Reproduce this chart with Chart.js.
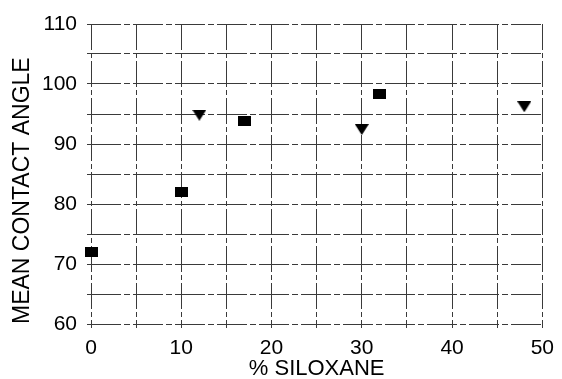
<!DOCTYPE html>
<html>
<head>
<meta charset="utf-8">
<script src="https://cdn.jsdelivr.net/npm/chart.js@4.4.1/dist/chart.umd.min.js"></script>
<style>
  html, body { margin: 0; padding: 0; background: #fff; }
  #wrap { width: 562px; height: 379px; }
</style>
</head>
<body>
<div id="wrap"><canvas id="chart"></canvas></div>
<script>
// % siloxane vs. mean contact angle, two sample sets
const squareX = [0, 10, 17, 32];
const squareY = [72, 82, 93.8, 98.4];
const triangleX = [12, 30, 48];
const triangleY = [94.8, 92.4, 96.2];

const xTicks = [0, 10, 20, 30, 40, 50];
const yTicks = [60, 70, 80, 90, 100, 110];

// marker images: filled square and downward triangle
function makeSquare() {
    const c = document.createElement("canvas");
    c.width = 13;
    c.height = 10;
    const ctx = c.getContext("2d");
    ctx.fillStyle = "#000";
    ctx.fillRect(0, 0, 13, 10);
    return c;
}
function makeTriangle() {
    const c = document.createElement("canvas");
    c.width = 14;
    c.height = 11;
    const ctx = c.getContext("2d");
    ctx.fillStyle = "#000";
    ctx.beginPath();
    ctx.moveTo(0, 0);
    ctx.lineTo(14, 0);
    ctx.lineTo(7, 11);
    ctx.closePath();
    ctx.fill();
    return c;
}

const toPoints = (xs, ys) => xs.map((x, i) => ({ x: x, y: ys[i] }));

const gridStyle = {
    color: "#3a3a3a",
    lineWidth: 1,
    tickLength: 4,
    tickColor: "#3a3a3a",
    drawOnChartArea: true,
};
const font = (size, lineHeight) => ({ family: "Liberation Sans, Arial, sans-serif", size: size, lineHeight: lineHeight || 1.2 });

new Chart(document.getElementById("chart"), {
    type: "scatter",
    data: {
        datasets: [
            {
                label: "squares",
                data: toPoints(squareX, squareY),
                pointStyle: makeSquare(),
                pointRadius: 7,
                clip: false,
            },
            {
                label: "triangles",
                data: toPoints(triangleX, triangleY),
                pointStyle: makeTriangle(),
                pointRadius: 7,
                clip: false,
            },
        ],
    },
    options: {
        responsive: true,
        maintainAspectRatio: false,
        animation: false,
        layout: {
            padding: { top: 24, right: 11, left: 0, bottom: 0 },
        },
        plugins: {
            legend: { display: false },
            tooltip: { enabled: false },
        },
        scales: {
            x: {
                type: "linear",
                min: 0,
                max: 50,
                afterFit: (scale) => { scale.height = 55; },
                border: { display: false, dash: [26, 3, 5, 3] },
                grid: gridStyle,
                ticks: {
                    stepSize: 5,
                    autoSkip: false,
                    maxRotation: 0,
                    padding: 8,
                    color: "#000",
                    font: font(21),
                    callback: (v) => (xTicks.includes(v) ? String(v) : ""),
                },
                title: {
                    display: true,
                    text: "% SILOXANE",
                    color: "#000",
                    padding: 0,
                    font: font(22, 0.9),
                },
            },
            y: {
                type: "linear",
                min: 60,
                max: 110,
                afterFit: (scale) => { scale.width = 91; },
                border: { display: false, dash: [30, 3, 6, 3] },
                grid: gridStyle,
                ticks: {
                    stepSize: 5,
                    autoSkip: false,
                    padding: 10,
                    color: "#000",
                    font: font(21),
                    callback: (v) => (yTicks.includes(v) ? String(v) : ""),
                },
                title: {
                    display: true,
                    text: "MEAN CONTACT ANGLE",
                    align: "start",
                    color: "#000",
                    padding: { top: 9, bottom: 0 },
                    font: font(23),
                },
            },
        },
    },
});
</script>
</body>
</html>
